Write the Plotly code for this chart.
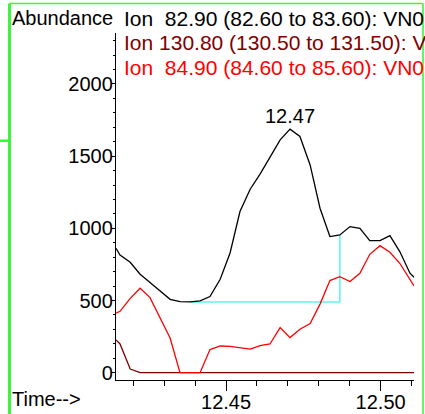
import plotly.graph_objects as go

# Retention time (min) of each scan
times = [12.4144, 12.4157, 12.4190, 12.4222, 12.4254, 12.4287, 12.4319, 12.4351,
         12.4384, 12.4416, 12.4448, 12.4481, 12.4513, 12.4545, 12.4578, 12.4610,
         12.4642, 12.4675, 12.4707, 12.4739, 12.4772, 12.4804, 12.4836, 12.4868,
         12.4901, 12.4933, 12.4965, 12.4998, 12.5030, 12.5062, 12.5095, 12.5108]

# Extracted ion abundances
ion_82_90 = [862, 815, 765, 682, 625, 565, 508, 492, 490, 497, 527, 647, 829, 1116,
             1271, 1375, 1497, 1613, 1687, 1636, 1439, 1139, 943, 954, 1012, 1000,
             915, 915, 950, 839, 689, 661]
ion_130_80 = [227, 199, 25, 0, 0, 0, 0, 0, 0, 0, 0, 0, 0, 0, 0, 0, 0, 0, 0, 0, 0, 0,
              0, 0, 0, 0, 0, 0, 0, 0, 0, 0]
ion_84_90 = [412, 425, 515, 585, 520, 380, 240, 0, 0, 0, 160, 185, 182, 173, 164, 187,
             199, 312, 243, 301, 340, 475, 638, 665, 631, 689, 820, 880, 834, 758,
             647, 601]

legend_labels = ["Ion\u00a0\u00a082.90 (82.60 to 83.60): VN0",
                 "Ion 130.80 (130.50 to 131.50): V",
                 "Ion\u00a0\u00a084.90 (84.60 to 85.60): VN0"]
trace_colors = ["#000000", "#800000", "#ff0000"]

# integration baseline: scan indices of peak start / end
base_start, base_end = 8, 23

W, H = 425, 414
PL, PR, PT, PB = 116, 414, 33, 380
FONT = "Liberation Sans, Arial, sans-serif"


def px(x):
    return (x - PL) / (PR - PL)


def py(y):
    return (PB - y) / (PB - PT)


fig = go.Figure()

fig.add_trace(go.Scatter(
    x=[times[base_start], times[base_end], times[base_end]],
    y=[ion_82_90[base_start], ion_82_90[base_start], ion_82_90[base_end]],
    mode="lines", line=dict(color="#5cf5f5", width=1.6), hoverinfo="skip"))

for ys, col in zip([ion_130_80, ion_84_90, ion_82_90],
                   [trace_colors[1], trace_colors[2], trace_colors[0]]):
    fig.add_trace(go.Scatter(x=times, y=ys, mode="lines",
                             line=dict(color=col, width=1.3)))

# apex label
i_max = max(range(len(ion_82_90)), key=lambda i: ion_82_90[i])
fig.add_annotation(x=times[i_max], y=ion_82_90[i_max], xref="x", yref="y",
                   text=f"{times[i_max]:.2f}", showarrow=False,
                   xanchor="center", yanchor="bottom", yshift=0,
                   font=dict(family=FONT, size=20, color="#000000"))

fig.add_annotation(x=px(10), y=py(18.3), xref="paper", yref="paper",
                   text="Abundance", showarrow=False, xanchor="left",
                   yanchor="middle", font=dict(family=FONT, size=20, color="#000000"))
for k, (lab, col) in enumerate(zip(legend_labels, trace_colors)):
    fig.add_annotation(x=px(122), y=py(19 + 24 * k), xref="paper", yref="paper",
                       text=lab, showarrow=False, xanchor="left",
                       yanchor="middle", font=dict(family=FONT, size=21, color=col))
fig.add_annotation(x=px(10), y=py(398.8), xref="paper", yref="paper",
                   text="Time-->", showarrow=False, xanchor="left",
                   yanchor="middle", font=dict(family=FONT, size=20, color="#000000"))

# green frame
green = "#3cf53c"
frame = [
    dict(x0=9.5, y0=3.5, x1=9.5, y1=H, w=3),
    dict(x0=9.5, y0=3.5, x1=423, y1=3.5, w=1.6),
    dict(x0=423, y0=3.5, x1=423, y1=H, w=1.6),
    dict(x0=0, y0=140.7, x1=9.5, y1=140.7, w=2.5),
]
for f in frame:
    fig.add_shape(type="line", xref="paper", yref="paper",
                  x0=px(f["x0"]), x1=px(f["x1"]), y0=py(f["y0"]), y1=py(f["y1"]),
                  line=dict(color=green, width=f["w"]))

fig.update_layout(
    width=W, height=H, autosize=False,
    margin=dict(l=PL, r=W - PR, t=PT, b=H - PB, pad=0, autoexpand=False),
    paper_bgcolor="white", plot_bgcolor="white",
    showlegend=False,
    font=dict(family=FONT, size=20, color="#000000"),
)
fig.update_xaxes(
    range=[12.4144, 12.5108], showgrid=False, zeroline=False, automargin=False,
    showline=True, linecolor="#000000", linewidth=1.3,
    tickmode="array", tickvals=[12.45, 12.50], ticktext=["12.45", "12.50"],
    ticks="outside", ticklen=10, tickwidth=1.2, tickcolor="#000000",
    minor=dict(dtick=0.01, tick0=12.40, ticks="outside", ticklen=5,
               tickwidth=1.2, tickcolor="#000000", showgrid=False),
    tickfont=dict(family=FONT, size=20), ticklabelstandoff=-6,
)
fig.update_yaxes(
    range=[-50.6, 2353], showgrid=False, zeroline=False, automargin=False,
    showline=True, linecolor="#000000", linewidth=1.3,
    tickmode="linear", tick0=0, dtick=500,
    ticks="outside", ticklen=3, tickwidth=1.2, tickcolor="#000000",
    minor=dict(dtick=100, ticks="outside", ticklen=2, tickwidth=1,
               tickcolor="#000000", showgrid=False),
    tickfont=dict(family=FONT, size=20), ticklabelstandoff=-5,
)

fig.write_html("out.html", config={"displayModeBar": False})
